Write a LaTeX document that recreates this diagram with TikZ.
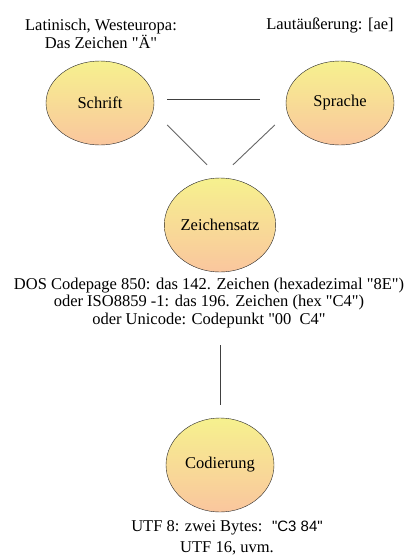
\documentclass[tikz,border=0pt]{standalone}
\usepackage{fontspec}
\setmainfont{Liberation Serif}[Ligatures=TeXOff]
\newfontfamily\arialfont{Liberation Sans}[Ligatures=TeXOff]
\usetikzlibrary{shapes,calc}

\definecolor{gelb}{RGB}{246,241,142}
\definecolor{pfirsich}{RGB}{250,198,158}

\begin{document}
\begin{tikzpicture}[x=1pt,y=-1pt,
		kreis/.style={ellipse,draw=black!85,thin,top color=gelb,bottom color=pfirsich,
			inner sep=0pt,minimum width=108pt,font=\fontsize{16.5}{18}\selectfont},
		beschriftung/.style={align=center,inner sep=0pt},
		verbindung/.style={draw=black!75,line width=0.9pt}]
		\useasboundingbox (0,0) rectangle (413,557);
		% die vier Begriffe
		\node[kreis,minimum height=84pt] (schrift) at (100,103) {Schrift};
		\node[kreis,minimum height=84pt] (sprache) at (340,103) {Sprache};
		\node[kreis,minimum height=94pt] (zeichensatz) at (220,225) {Zeichensatz};
		\node[kreis,minimum height=94pt] (codierung) at (220,465) {Codierung};
		% Beschriftungen
		\node[beschriftung,font=\fontsize{16.5}{18}\selectfont] (latein) at (101,34)
			{Latinisch, Westeuropa:\\Das Zeichen "Ä"};
		\node[beschriftung,font=\fontsize{16.5}{18}\selectfont] (laut) at (330,25)
			{Lautäußerung: [ae]};
		\node[beschriftung,font=\fontsize{16.5}{17.5}\selectfont] (dos) at (209,303)
			{DOS Codepage 850: das 142. Zeichen (hexadezimal "8E")\\
			oder ISO8859 -1: das 196. Zeichen (hex "C4")\\
			oder Unicode: Codepunkt "00~~C4"};
		\node[beschriftung,font=\fontsize{16.5}{21}\selectfont] (utf) at (227,538)
			{UTF 8: zwei Bytes: \ {\arialfont\fontsize{15}{21}\selectfont "C3 84"}\\
			UTF 16, uvm.};
		% Verbindungen
		\draw[verbindung] ($(schrift.east)+(13,-4)$) -- ($(sprache.west)+(-26,-4)$);
		\draw[verbindung,draw=black!60] ($(schrift.east)+(13,22)$) -- ($(zeichensatz.north)+(-13,-13)$);
		\draw[verbindung,draw=black!60] ($(sprache.west)+(-11,22)$) -- ($(zeichensatz.north)+(13,-13)$);
		\draw[verbindung,shorten <=73pt,shorten >=13pt] (zeichensatz) -- (codierung);
	\end{tikzpicture}
\end{document}
